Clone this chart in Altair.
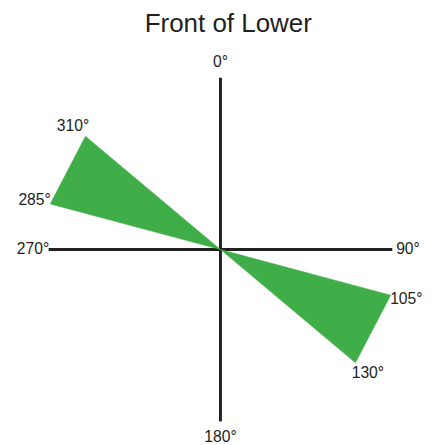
import altair as alt
import pandas as pd

# ---- data ----
title_text = "Front of Lower"
wedge_start = [285, 105]      # degrees, compass style (0 = up, clockwise)
wedge_end = [310, 130]
axis_angles = [0, 90, 180, 270]

# ---- layout constants (radii in data units) ----
WEDGE_R = 1.0
AXIS_R = 0.975
AXIS_LABEL_R = 1.064
WEDGE_LABEL_R = 1.092
PX_PER_UNIT = 180
HALF_W = 213 / PX_PER_UNIT

INK = "#231f20"
GREEN = "#3fae49"
FONT = "Liberation Sans"

# polygons: centre -> tip at start angle -> tip at end angle -> centre
rows = []
for i, (a0, a1) in enumerate(zip(wedge_start, wedge_end)):
    rows += [
        {"wedge": i, "ord": 0, "angle": a0, "r": 0.0},
        {"wedge": i, "ord": 1, "angle": a0, "r": WEDGE_R},
        {"wedge": i, "ord": 2, "angle": a1, "r": WEDGE_R},
        {"wedge": i, "ord": 3, "angle": a1, "r": 0.0},
    ]
wedges = pd.DataFrame(rows)

arms = pd.DataFrame({"angle": axis_angles, "r": AXIS_R})

label_rows = [{"angle": a, "r": AXIS_LABEL_R, "text": f"{a}°"} for a in axis_angles]
label_rows += [{"angle": a, "r": WEDGE_LABEL_R, "text": f"{a}°"} for a in wedge_start + wedge_end]
labels = pd.DataFrame(label_rows)

xs = alt.Scale(domain=[-HALF_W, HALF_W], nice=False, zero=False)
ys = alt.Scale(domain=[-1, 1], nice=False, zero=False)

polar = dict(
    x="datum.r * sin(datum.angle * PI / 180)",
    y="datum.r * cos(datum.angle * PI / 180)",
)

axes_layer = (
    alt.Chart(arms)
    .transform_calculate(**polar, x0="0", y0="0")
    .mark_rule(color=INK, strokeWidth=3, strokeCap="butt")
    .encode(
        x=alt.X("x0:Q", scale=xs, axis=None),
        y=alt.Y("y0:Q", scale=ys, axis=None),
        x2="x:Q",
        y2="y:Q",
    )
)

wedge_layer = (
    alt.Chart(wedges)
    .transform_calculate(**polar)
    .mark_line(fill=GREEN, stroke=GREEN, strokeWidth=0.5, interpolate="linear")
    .encode(
        x=alt.X("x:Q", scale=xs, axis=None),
        y=alt.Y("y:Q", scale=ys, axis=None),
        detail="wedge:N",
        order="ord:Q",
    )
)

label_layer = (
    alt.Chart(labels)
    .transform_calculate(**polar)
    .mark_text(font=FONT, fontSize=16, color=INK, align="center", baseline="middle")
    .encode(
        x=alt.X("x:Q", scale=xs, axis=None),
        y=alt.Y("y:Q", scale=ys, axis=None),
        text="text:N",
    )
)

chart = (
    alt.layer(axes_layer, wedge_layer, label_layer)
    .properties(
        width=426,
        height=360,
        title=alt.TitleParams(
            title_text, font=FONT, fontSize=26.5, fontWeight="normal",
            color=INK, anchor="middle", dx=8, offset=17,
        ),
        padding={"left": 4, "top": 62, "right": 0, "bottom": 20},
        autosize=alt.AutoSizeParams(type="none"),
        background="white",
    )
    .configure_view(strokeWidth=0)
)

chart.save("out.html", embed_options={"renderer": "svg", "actions": False})
